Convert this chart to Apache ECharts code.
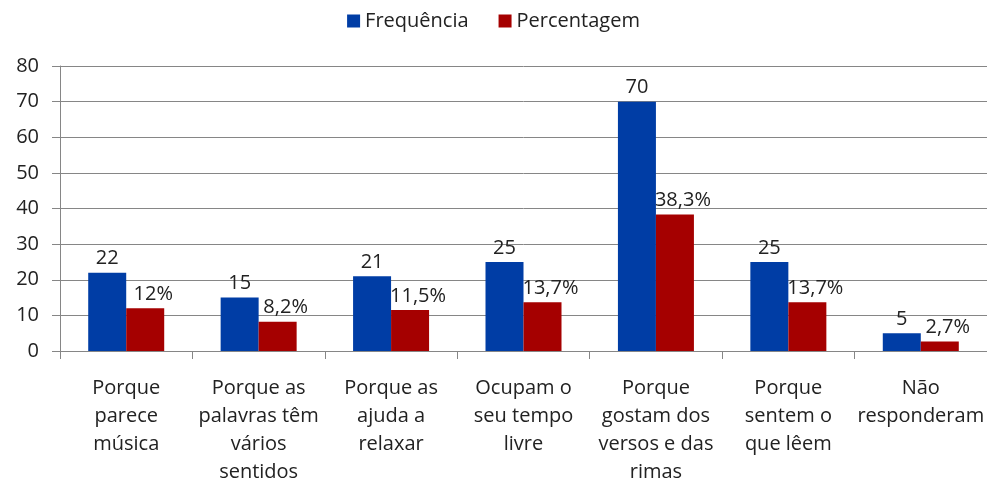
<!DOCTYPE html>
<html lang="pt">
<head>
<meta charset="UTF-8">
<title>Chart</title>
<style>
  html, body { margin: 0; padding: 0; background: #fff; }
  #chart { width: 987px; height: 485px; }
</style>
</head>
<body>
<div id="chart"></div>
<script src="https://cdn.jsdelivr.net/npm/echarts@6/dist/echarts.min.js"></script>
<script>
  const categories = [
    'Porque\nparece\nmúsica',
    'Porque as\npalavras têm\nvários\nsentidos',
    'Porque as\najuda a\nrelaxar',
    'Ocupam o\nseu tempo\nlivre',
    'Porque\ngostam dos\nversos e das\nrimas',
    'Porque\nsentem o\nque lêem',
    'Não\nresponderam'
  ];
  const frequencia = [22, 15, 21, 25, 70, 25, 5];
  const percentagem = [12, 8.2, 11.5, 13.7, 38.3, 13.7, 2.7];
  const yTicks = { min: 0, max: 80, interval: 10 };

  const font = 'Open Sans';
  const chart = echarts.init(document.getElementById('chart'));
  chart.setOption({
    animation: false,
    textStyle: { fontFamily: font, color: '#222' },
    legend: {
      top: 6,
      left: 'center',
      itemWidth: 13,
      itemHeight: 13,
      itemGap: 30,
      icon: 'rect',
      textStyle: { fontFamily: font, fontSize: 20, color: '#222' },
      data: ['Frequência', 'Percentagem']
    },
    grid: { left: 60, right: 0, top: 66, bottom: 134, outerBoundsMode: 'none' },
    xAxis: {
      type: 'category',
      data: categories,
      axisLine: { lineStyle: { color: '#868686' } },
      axisTick: { show: true, length: 8, lineStyle: { color: '#868686' } },
      axisLabel: { fontFamily: font, fontSize: 20, color: '#222', lineHeight: 28, margin: 23, interval: 0 }
    },
    yAxis: {
      type: 'value',
      min: yTicks.min,
      max: yTicks.max,
      interval: yTicks.interval,
      axisLine: { show: true, lineStyle: { color: '#868686' } },
      axisTick: { show: true, length: 8, lineStyle: { color: '#868686' } },
      splitLine: { lineStyle: { color: '#868686' } },
      axisLabel: { fontFamily: font, fontSize: 20, color: '#222', margin: 21 }
    },
    series: [
      {
        name: 'Frequência',
        type: 'bar',
        barWidth: 38,
        barGap: '0%',
        itemStyle: { color: '#003DA5' },
        label: { show: true, position: 'top', distance: 4, fontFamily: font, fontSize: 20, color: '#222' },
        data: frequencia
      },
      {
        name: 'Percentagem',
        type: 'bar',
        barWidth: 38,
        barGap: '0%',
        itemStyle: { color: '#A50000' },
        label: {
          show: true, position: 'top', distance: 4, offset: [8, 0],
          fontFamily: font, fontSize: 20, color: '#222',
          formatter: p => String(p.value).replace('.', ',') + '%'
        },
        data: percentagem
      }
    ]
  });
</script>
</body>
</html>
